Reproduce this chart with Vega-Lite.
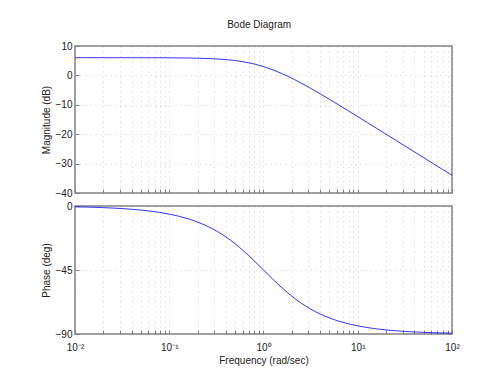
{
  "$schema": "https://vega.github.io/schema/vega-lite/v6.json",
  "padding": {"left": 40, "top": 20, "right": 5, "bottom": 5},
  "background": "white",
  "title": {"text": "Bode Diagram", "fontSize": 10, "fontWeight": "normal", "font": "Liberation Sans", "color": "#222", "offset": 10, "dx": 9, "anchor": "middle"},
  "config": {
    "font": "Liberation Sans",
    "view": {"stroke": "#808080", "strokeWidth": 1.5},
    "axis": {
      "labelFont": "Liberation Sans", "labelFontSize": 10, "labelColor": "#222",
      "titleFont": "Liberation Sans", "titleFontSize": 10, "titleColor": "#222", "titleFontWeight": "normal",
      "domain": false, "tickColor": "#808080", "tickSize": -4,
      "grid": true, "gridColor": "#aaa", "gridDash": [1, 4], "gridWidth": 0.6,
      "labelOverlap": false, "labelFlush": false
    }
  },
  "data": {"values": [
    {"w": 0.01, "mag": 6.0202, "phase": -0.573},
    {"w": 0.012589, "mag": 6.0199, "phase": -0.721},
    {"w": 0.015849, "mag": 6.0195, "phase": -0.908},
    {"w": 0.019953, "mag": 6.0189, "phase": -1.143},
    {"w": 0.025119, "mag": 6.0179, "phase": -1.439},
    {"w": 0.031623, "mag": 6.0163, "phase": -1.811},
    {"w": 0.039811, "mag": 6.0137, "phase": -2.280},
    {"w": 0.050119, "mag": 6.0097, "phase": -2.869},
    {"w": 0.063096, "mag": 6.0033, "phase": -3.610},
    {"w": 0.079433, "mag": 5.9933, "phase": -4.542},
    {"w": 0.1, "mag": 5.9774, "phase": -5.711},
    {"w": 0.125893, "mag": 5.9523, "phase": -7.175},
    {"w": 0.158489, "mag": 5.9129, "phase": -9.006},
    {"w": 0.199526, "mag": 5.8510, "phase": -11.284},
    {"w": 0.251189, "mag": 5.7549, "phase": -14.100},
    {"w": 0.316228, "mag": 5.6067, "phase": -17.548},
    {"w": 0.398107, "mag": 5.3817, "phase": -21.708},
    {"w": 0.501187, "mag": 5.0474, "phase": -26.620},
    {"w": 0.630957, "mag": 4.5652, "phase": -32.250},
    {"w": 0.794328, "mag": 3.8962, "phase": -38.458},
    {"w": 1, "mag": 3.0103, "phase": -45.0},
    {"w": 1.258925, "mag": 1.8961, "phase": -51.542},
    {"w": 1.584893, "mag": 0.5651, "phase": -57.750},
    {"w": 1.995262, "mag": -0.9526, "phase": -63.380},
    {"w": 2.511886, "mag": -2.6183, "phase": -68.292},
    {"w": 3.162278, "mag": -4.3933, "phase": -72.452},
    {"w": 3.981072, "mag": -6.2452, "phase": -75.900},
    {"w": 5.011872, "mag": -8.1489, "phase": -78.716},
    {"w": 6.309573, "mag": -10.0871, "phase": -80.994},
    {"w": 7.943282, "mag": -12.0477, "phase": -82.825},
    {"w": 10, "mag": -14.0226, "phase": -84.289},
    {"w": 12.589254, "mag": -16.0067, "phase": -85.458},
    {"w": 15.848932, "mag": -17.9966, "phase": -86.390},
    {"w": 19.952623, "mag": -19.9903, "phase": -87.131},
    {"w": 25.118864, "mag": -21.9863, "phase": -87.720},
    {"w": 31.622777, "mag": -23.9837, "phase": -88.189},
    {"w": 39.810717, "mag": -25.9821, "phase": -88.561},
    {"w": 50.118723, "mag": -27.9811, "phase": -88.857},
    {"w": 63.095734, "mag": -29.9805, "phase": -89.092},
    {"w": 79.432823, "mag": -31.9801, "phase": -89.279},
    {"w": 100, "mag": -33.9798, "phase": -89.427}
  ]},
  "bounds": "flush",
  "spacing": 13,
  "vconcat": [
    {
      "width": 377,
      "height": 147,
      "mark": {"type": "line", "color": "#0000ff", "strokeWidth": 0.8, "interpolate": "monotone", "clip": true},
      "encoding": {
        "x": {"field": "w", "type": "quantitative",
          "scale": {"type": "log", "domain": [0.01, 100], "nice": false},
          "axis": {"title": null, "labels": false,
            "values": [0.01,0.02,0.03,0.04,0.05,0.06,0.07,0.08,0.09,0.1,0.2,0.3,0.4,0.5,0.6,0.7,0.8,0.9,1,2,3,4,5,6,7,8,9,10,20,30,40,50,60,70,80,90,100]}},
        "y": {"field": "mag", "type": "quantitative",
          "scale": {"domain": [-40, 10], "nice": false, "zero": false},
          "axis": {"title": "Magnitude (dB)", "values": [-40,-30,-20,-10,0,10], "labelPadding": 7, "titlePadding": 4}}
      }
    },
    {
      "width": 377,
      "height": 128,
      "mark": {"type": "line", "color": "#0000ff", "strokeWidth": 0.8, "interpolate": "monotone", "clip": true},
      "encoding": {
        "x": {"field": "w", "type": "quantitative",
          "scale": {"type": "log", "domain": [0.01, 100], "nice": false},
          "axis": {"title": "Frequency (rad/sec)", "labelPadding": 12, "titlePadding": 3,
            "values": [0.01,0.02,0.03,0.04,0.05,0.06,0.07,0.08,0.09,0.1,0.2,0.3,0.4,0.5,0.6,0.7,0.8,0.9,1,2,3,4,5,6,7,8,9,10,20,30,40,50,60,70,80,90,100],
            "labelExpr": "datum.value == 0.01 ? '10⁻²' : datum.value == 0.1 ? '10⁻¹' : datum.value == 1 ? '10⁰' : datum.value == 10 ? '10¹' : datum.value == 100 ? '10²' : ''"}},
        "y": {"field": "phase", "type": "quantitative",
          "scale": {"domain": [-90, 0], "nice": false, "zero": false},
          "axis": {"title": "Phase (deg)", "values": [-90, -45, 0], "labelPadding": 7, "titlePadding": 4}}
      }
    }
  ]
}
